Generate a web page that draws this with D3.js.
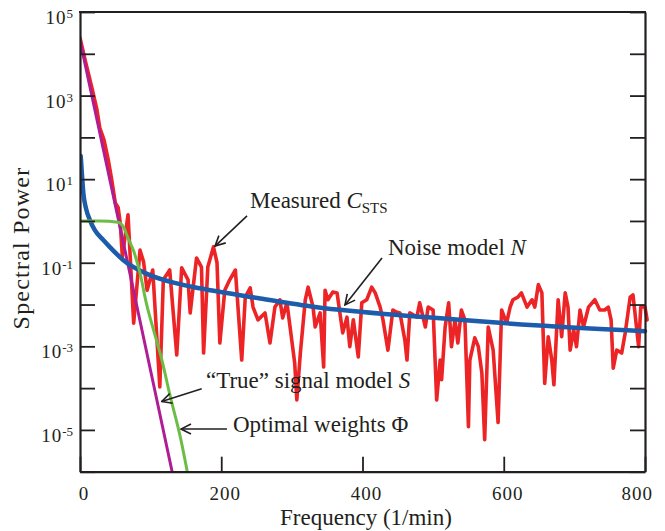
<!DOCTYPE html>
<html>
<head>
<meta charset="utf-8">
<script src="https://cdn.jsdelivr.net/npm/d3@7"></script>
<style>
  body { margin: 0; background: #fff; }
  svg text { font-family: "Liberation Serif", "Times New Roman", serif; fill: #231f20; }
</style>
</head>
<body>
<svg width="665" height="531"></svg>
<script>
// tick values
const freqTicks = [0, 200, 400, 600, 800];
const powerDecades = [1e-6, 1e-5, 1e-4, 1e-3, 1e-2, 1e-1, 1e0, 1e1, 1e2, 1e3, 1e4, 1e5];
const labelledDecades = [-5, -3, -1, 1, 3, 5]; // exponents that get a label

// measured spectrum C_STS (red)
const measuredFreq = [
  0, 8, 17, 24, 28, 34, 40, 45, 50, 54,
  57, 60, 68, 76, 85, 90, 95, 103, 113, 118,
  127, 137, 144, 153, 156, 165, 172, 175, 181, 189,
  194, 198, 205, 212, 220, 229, 234, 241, 245, 252,
  262, 269, 276, 283, 287, 293, 304, 307, 312, 319,
  323, 330, 333, 340, 345, 347, 351, 358, 364, 368,
  372, 378, 382, 387, 394, 399, 406, 413, 418, 425,
  429, 436, 443, 448, 453, 460, 463, 467, 477, 481,
  489, 493, 500, 505, 510, 512, 517, 522, 526, 531,
  535, 540, 545, 550, 552, 559, 564, 569, 573, 578,
  585, 592, 597, 604, 609, 613, 620, 625, 633, 640,
  644, 649, 654, 658, 663, 668, 671, 677, 682, 687,
  691, 694, 699, 703, 708, 713, 720, 729, 736, 743,
  748, 752, 755, 760, 767, 772, 779, 783, 791, 794,
  800, 803
];
const measuredPower = [
  2.4e4, 6.3e3, 1.5e3, 460, 170, 87, 29, 9.5, 2.7, 2.1,
  0.89, 0.14, 1.4, 3.6e-3, 0.2, 0.105, 0.022, 0.067, 1.07e-4, 0.039,
  0.067, 6.2e-4, 0.076, 0.039, 6.3e-3, 0.13, 0.079, 6.9e-4, 0.079, 0.24,
  0.10, 1.2e-3, 0.022, 0.039, 0.067, 4.7e-4, 0.015, 0.025, 8.7e-3, 4.3e-3,
  6.3e-3, 1.2e-3, 8.7e-3, 0.013, 4.8e-3, 0.011, 4.0e-4, 5.2e-5, 6.9e-4, 0.013,
  0.026, 8.7e-3, 2.9e-3, 6.3e-3, 3.2e-4, 0.022, 0.013, 0.020, 0.019, 6.3e-3,
  2.1e-3, 5.0e-3, 9.8e-4, 4.3e-3, 5.6e-4, 0.011, 0.013, 0.026, 0.019, 8.7e-3,
  4.3e-3, 8.1e-4, 7.4e-3, 6.6e-3, 6.3e-3, 1.4e-3, 4.7e-4, 6.3e-3, 5.0e-3, 0.011,
  2.9e-3, 8.7e-3, 7.4e-3, 5.2e-5, 4.7e-4, 1.6e-4, 2.9e-3, 0.011, 9.8e-4, 4.3e-3,
  1.2e-3, 7.4e-3, 4.3e-3, 1.2e-5, 4.7e-4, 1.6e-3, 9.8e-4, 2.3e-4, 5.8e-6, 2.9e-3,
  8.1e-4, 1.5e-5, 7.4e-3, 3.6e-3, 8.7e-3, 0.013, 0.015, 0.019, 8.7e-3, 0.013,
  8.7e-3, 0.030, 0.019, 1.3e-4, 1.7e-3, 4.7e-4, 1.2e-4, 0.013, 1.7e-3, 0.019,
  8.7e-3, 8.1e-4, 2.5e-3, 9.8e-4, 7.4e-3, 2.9e-3, 8.7e-3, 0.013, 7.4e-3, 7.4e-3,
  8.7e-3, 4.3e-3, 3.0e-4, 8.1e-4, 6.9e-4, 2.1e-3, 0.015, 0.017, 9.8e-4, 8.7e-3,
  8.7e-3, 4.3e-3
];

// noise model N (blue)
const noiseFreq  = [1, 2.8, 4.7, 8.5, 14, 21, 33, 42, 61, 94, 137, 170, 255, 333, 488, 644, 800];
const noisePower = [36, 12.6, 4.7, 2.0, 1.05, 0.60, 0.35, 0.24, 0.117, 0.055, 0.032, 0.0245, 0.014, 0.0087, 0.005, 0.0032, 0.0023];

// "true" signal model S (magenta)
const signalFreq  = [0, 33, 66, 100, 131];
const signalPower = [2.1e4, 52, 0.13, 2.6e-4, 9e-7];

// optimal weights Phi (green)
const weightFreq  = [0, 28, 54, 61, 68, 76, 85, 94, 104, 116, 127, 142, 153];
const weightPower = [1.0, 1.0, 0.93, 0.74, 0.39, 0.19, 0.056, 0.0107, 2.5e-3, 4.7e-4, 7.2e-5, 6.8e-6, 8e-7];

const ink = "#231f20";
const svg = d3.select("svg");

const x = d3.scaleLinear().domain([0, 800]).range([80, 645]);
const y = d3.scaleLog().domain([1e-6, 1e5]).range([471.7, 12]);

// clip for the curves
svg.append("defs").append("clipPath").attr("id", "plot")
  .append("rect").attr("x", 80).attr("y", 12).attr("width", 570).attr("height", 459.7);

const line = d3.line().x(d => x(d[0])).y(d => y(d[1]));
const smooth = d3.line().x(d => x(d[0])).y(d => y(d[1])).curve(d3.curveMonotoneX);

const curves = svg.append("g").attr("clip-path", "url(#plot)").attr("fill", "none")
  .attr("stroke-linejoin", "round").attr("stroke-linecap", "round");

curves.append("path")
  .attr("d", line(d3.zip(measuredFreq, measuredPower)))
  .attr("stroke", "#ed2426").attr("stroke-width", 3.6);

curves.append("path")
  .attr("d", line(d3.zip(signalFreq, signalPower)))
  .attr("stroke", "#b01c93").attr("stroke-width", 3);

curves.append("path")
  .attr("d", smooth(d3.zip(noiseFreq, noisePower)))
  .attr("stroke", "#1c5caa").attr("stroke-width", 4.5);

curves.append("path")
  .attr("d", smooth(d3.zip(weightFreq, weightPower)))
  .attr("stroke", "#6cbd45").attr("stroke-width", 3);

// axes, ticks point inward
function styleAxis(g) {
  g.select(".domain").attr("stroke", ink).attr("stroke-width", 2.2);
  g.selectAll(".tick line").attr("stroke", ink).attr("stroke-width", 1.8);
  g.selectAll(".tick text").remove();
}
svg.append("g").attr("transform", `translate(0,${y(1e-6)})`)
  .call(d3.axisBottom(x).tickValues(freqTicks).tickSize(-15).tickSizeOuter(0))
  .call(styleAxis);
svg.append("g").attr("transform", `translate(${x(0)},0)`)
  .call(d3.axisLeft(y).tickValues(powerDecades).tickSize(-15).tickSizeOuter(0))
  .call(styleAxis);
svg.append("g").attr("transform", `translate(${x(800)},0)`)
  .call(d3.axisRight(y).tickValues(powerDecades).tickSize(-15).tickSizeOuter(0))
  .call(styleAxis);
svg.append("line")
  .attr("x1", x(0) - 1).attr("x2", x(800) + 1).attr("y1", y(1e5)).attr("y2", y(1e5))
  .attr("stroke", ink).attr("stroke-width", 2.2);

// x tick labels
svg.append("g").selectAll("text").data(freqTicks).join("text")
  .attr("x", d => d === 800 ? x(d) + 8 : x(d) + 4)
  .attr("y", 500)
  .attr("text-anchor", d => d === 800 ? "end" : "middle")
  .attr("font-size", 19)
  .attr("letter-spacing", 1)
  .text(d => d);

// y tick labels 10^n
const yl = svg.append("g").selectAll("text").data(labelledDecades).join("text")
  .attr("x", 73)
  .attr("y", d => y(Math.pow(10, d)) + 12)
  .attr("text-anchor", "end")
  .attr("font-size", 19);
yl.append("tspan").attr("letter-spacing", 1).text("10");
yl.append("tspan").attr("font-size", 13).attr("dy", -6).text(d => d);

// axis titles
svg.append("text")
  .attr("x", 366).attr("y", 525)
  .attr("text-anchor", "middle").attr("font-size", 23)
  .text("Frequency (1/min)");
svg.append("text")
  .attr("transform", "translate(29,248) rotate(-90)")
  .attr("text-anchor", "middle").attr("font-size", 24)
  .attr("letter-spacing", 1.2)
  .text("Spectral Power");

// annotations with arrows (positions in data units)
svg.select("defs").append("marker")
  .attr("id", "arrow").attr("viewBox", "0 0 12 12")
  .attr("refX", 11).attr("refY", 6)
  .attr("markerWidth", 12).attr("markerHeight", 12)
  .attr("markerUnits", "userSpaceOnUse").attr("orient", "auto")
  .append("path").attr("d", "M1,1 L11,6 L1,11")
  .attr("fill", "none").attr("stroke", ink).attr("stroke-width", 1.6);

const annotations = [
  { parts: [["Measured ", ""], ["C", "i"], ["STS", "sub"]], at: [240.7, 2.05], from: [236.5, 1.32], to: [191.2, 0.25] },
  { parts: [["Noise model ", ""], ["N", "i"]], at: [436, 0.154], from: [427.6, 0.13], to: [375.2, 9.8e-3] },
  { parts: [["\u201CTrue\u201D signal model ", ""], ["S", "i"]], at: [178.4, 1.0e-4], from: [172.3, 9.6e-5], to: [115.7, 4.8e-5] },
  { parts: [["Optimal weights \u03A6", ""]], at: [216.6, 8.9e-6], from: [208.1, 1.05e-5], to: [143, 1.05e-5] }
];

const ann = svg.append("g");
annotations.forEach(a => {
  ann.append("line")
    .attr("x1", x(a.from[0])).attr("y1", y(a.from[1]))
    .attr("x2", x(a.to[0])).attr("y2", y(a.to[1]))
    .attr("stroke", ink).attr("stroke-width", 1.6)
    .attr("marker-end", "url(#arrow)");
  const t = ann.append("text")
    .attr("x", x(a.at[0])).attr("y", y(a.at[1]))
    .attr("font-size", 23);
  a.parts.forEach(([s, kind]) => {
    const ts = t.append("tspan").text(s);
    if (kind === "i") ts.attr("font-style", "italic");
    if (kind === "sub") ts.attr("font-size", 15).attr("dy", 5);
  });
});
</script>
</body>
</html>
